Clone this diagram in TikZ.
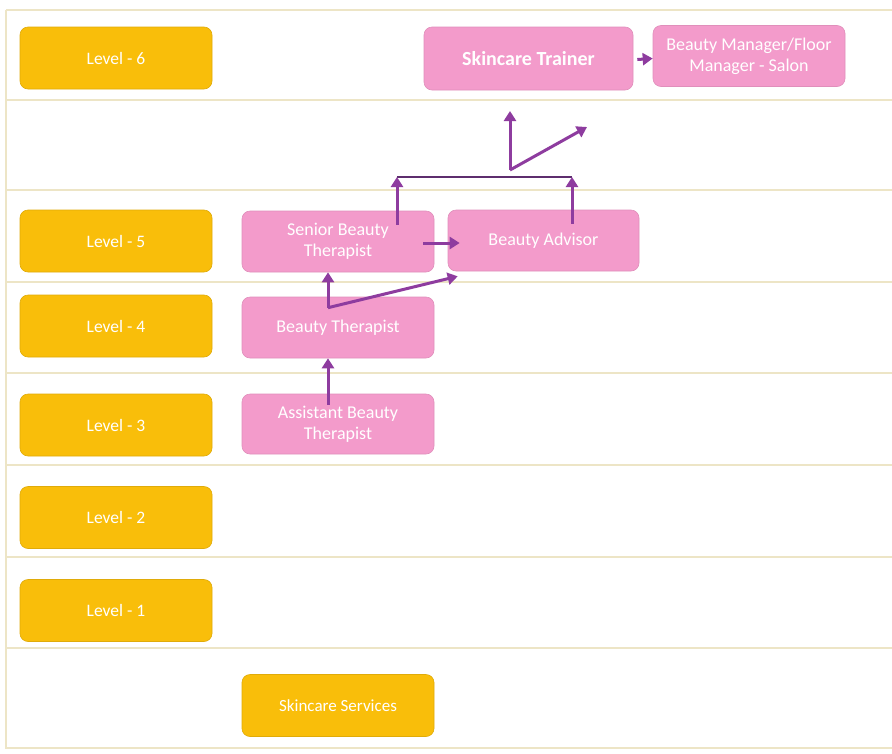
\documentclass[tikz,border=0pt]{standalone}
\usepackage{fontspec}
\setmainfont{Carlito}
\usetikzlibrary{arrows.meta,calc}
\definecolor{gold}{HTML}{F9BE0A}
\definecolor{pinkbox}{HTML}{F39BCB}
\definecolor{arrowc}{HTML}{8E3C9F}
\definecolor{joinc}{HTML}{5E2E6E}
\definecolor{rulec}{HTML}{EDE5C6}
\tikzset{
  lvl/.style={fill=gold, draw=gold!90!black, line width=0.6pt, rounded corners=8pt, minimum width=192pt, minimum height=62pt, text=white, font=\fontsize{17.5}{20}\selectfont, align=center, inner sep=2pt},
  job/.style={fill=pinkbox, draw=pinkbox!92!black, line width=0.6pt, rounded corners=8pt, minimum width=192pt, minimum height=61pt, text=white, font=\fontsize{18}{21}\selectfont, align=center, inner sep=2pt},
  flow/.style={draw=arrowc, line width=3pt, -{Triangle[length=10pt,width=12pt]}},
  joinline/.style={draw=joinc, line width=2pt},
  rowline/.style={draw=rulec, line width=1.2pt}
}
\begin{document}
\begin{tikzpicture}[x=1pt,y=-1pt]
\useasboundingbox (0,0) rectangle (892,753);
\fill[white] (0,0) rectangle (892,753);
% frame and row rules
\draw[rowline] (6,10) -- (892,10);
\draw[rowline] (6,10) -- (6,748) -- (892,748);
\foreach \yy in {100,190,282,373,465,557,648} \draw[rowline] (6,\yy) -- (892,\yy);
% level boxes
\node[lvl] (l6) at (116,58) {Level - 6};
\node[lvl] (l5) at (116,241) {Level - 5};
\node[lvl] (l4) at (116,326) {Level - 4};
\node[lvl] (l3) at (116,425) {Level - 3};
\node[lvl] (l2) at (116,517.5) {Level - 2};
\node[lvl] (l1) at (116,610.5) {Level - 1};
\node[lvl, font=\fontsize{17}{20}\selectfont] (ss) at (338,705.5) {Skincare Services};
% job boxes
\node[job, minimum width=209pt, minimum height=63pt, font=\fontsize{20}{22}\selectfont\bfseries] (st) at (528.5,58.5) {Skincare Trainer};
\node[job, font=\fontsize{18}{21}\selectfont] (bm) at (749,56) {Beauty Manager/Floor\\Manager - Salon};
\node[job] (sbt) at (338,241.5) {Senior Beauty\\Therapist};
\node[job, minimum width=191pt] (ba) at (543.5,240.5) {Beauty Advisor};
\node[job] (bt) at (338,327.5) {Beauty Therapist};
\node[job, minimum height=60pt] (abt) at (338,424) {Assistant Beauty\\Therapist};
% connectors
\draw[flow] ($(st.east)+(4,1)$) -- (bm.west |- st.east);
\draw[flow] ($(abt.north)+(-10,11)$) -- ($(bt.south)+(-10,0)$);
\coordinate (btj) at ($(bt.north)+(-10,11)$);
\draw[flow] (btj) -- ($(sbt.south)+(-10,0)$);
\draw[flow] (btj) -- ($(ba.south west)+(10,5)$);
\draw[flow] ($(sbt.east)+(-11,1.5)$) -- ($(ba.west)+(12,2.5)$);
\coordinate (jl) at (397,177);
\coordinate (jr) at (572,177);
\draw[joinline] (jl) -- (jr);
\draw[flow] ($(sbt.north)+(59,14)$) -- (jl);
\draw[flow] ($(ba.north)+(28.5,14)$) -- (jr);
\coordinate (fork) at (510,170);
\draw[flow] (fork) -- (510,111);
\draw[flow] (fork) -- (587,127);
\end{tikzpicture}
\end{document}
